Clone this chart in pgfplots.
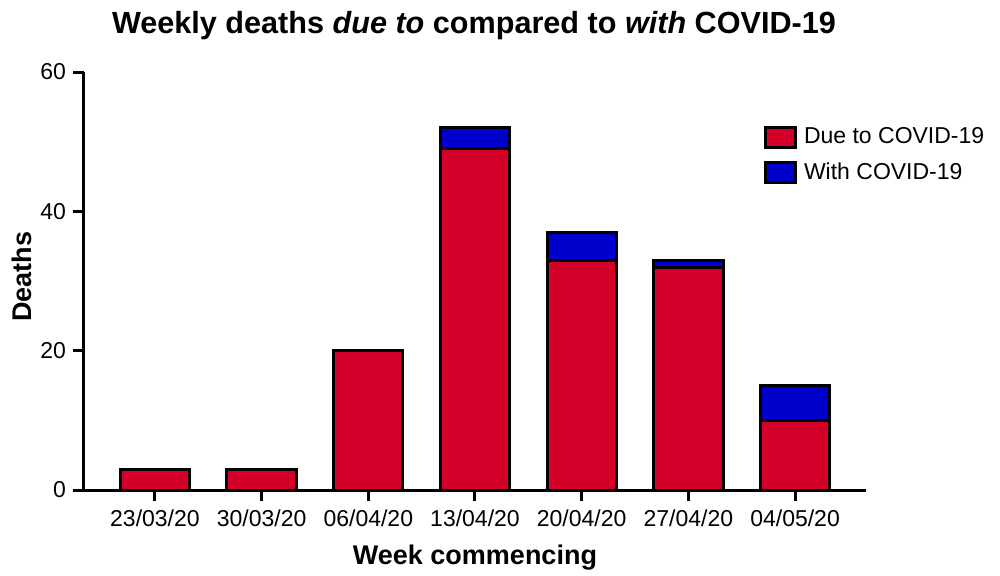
\documentclass[border=0pt]{standalone}
\usepackage{pgfplots}
\pgfplotsset{compat=1.18}
\usepackage{fontspec}
\setmainfont{Liberation Sans}
\definecolor{dueRed}{RGB}{213,0,42}
\definecolor{withBlue}{RGB}{0,0,204}
\begin{document}
\begin{tikzpicture}
\useasboundingbox (-42pt,-42.5pt) rectangle (458pt,245pt);
\begin{axis}[
  at={(0,0)}, anchor=south west,
  scale only axis,
  width=391pt, height=209pt,
  ybar stacked,
  bar width=0.65,
  xmin=-0.665, xmax=6.665,
  ymin=0, ymax=60,
  ytick={0,20,40,60},
  xtick=data,
  xticklabels={23/03/20,30/03/20,06/04/20,13/04/20,20/04/20,27/04/20,04/05/20},
  axis x line*=bottom,
  axis y line*=left,
  axis line style={line width=1.5pt, black},
  tick align=outside,
  major tick length=5.5pt,
  tick style={line width=1.5pt, black},
  tick label style={font=\fontsize{11.5pt}{13pt}\selectfont},
  xticklabel style={yshift=-0.8pt},
  /pgf/number format/assume math mode=true,
  xlabel={Week commencing},
  ylabel={Deaths},
  every axis x label/.style={at={(axis description cs:0.5,0)}, yshift=-34pt, anchor=center, font=\fontsize{13.5pt}{16pt}\selectfont\bfseries},
  every axis y label/.style={at={(axis description cs:0,0.51)}, xshift=-31.25pt, rotate=90, anchor=center, font=\fontsize{13.5pt}{16pt}\selectfont\bfseries},
  title={\textbf{Weekly deaths \textit{due to} compared to \textit{with} COVID-19}},
  title style={font=\fontsize{15.3pt}{18pt}\selectfont, at={(axis description cs:0.4987,1)}, yshift=17pt, anchor=center},
  legend style={draw=none, fill=none, at={(axis description cs:0.8696,0.876)}, anchor=north west, inner sep=0pt, outer sep=0pt,
    font=\fontsize{11.5pt}{13pt}\selectfont, row sep=4pt, legend cell align=left,
    nodes={inner xsep=3.5pt}},
  legend image code/.code={\draw[#1, line width=1.5pt] (0pt,-5pt) rectangle (15pt,5pt);},
  clip=false,
]
\addplot[fill=dueRed, draw=black, line width=1.5pt] coordinates {(0,3) (1,3) (2,20) (3,49) (4,33) (5,32) (6,10)};
\addplot[fill=withBlue, draw=black, line width=1.5pt] coordinates {(0,0) (1,0) (2,0) (3,3) (4,4) (5,1) (6,5)};
\legend{Due to COVID-19, With COVID-19}
\end{axis}
\end{tikzpicture}
\end{document}
